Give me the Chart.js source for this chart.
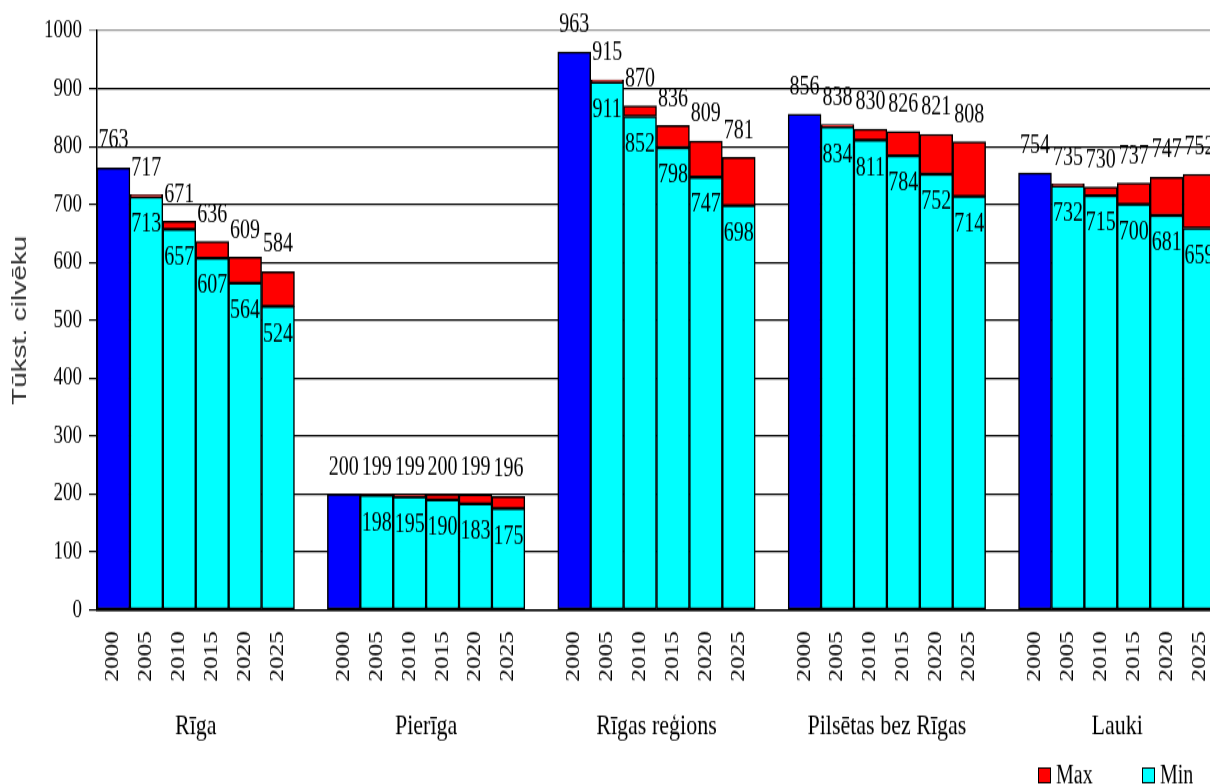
<!DOCTYPE html>
<html>
<head>
<meta charset="utf-8">
<script src="https://cdn.jsdelivr.net/npm/chart.js@4.4.1/dist/chart.umd.min.js"></script>
<style>
	body { margin: 0; background: #fff; }
	#wrap { width: 1210px; height: 784px; overflow: hidden; }
</style>
</head>
<body>
<div id="wrap">
	<canvas id="chart" width="1216" height="600" style="width:1216px;height:798px"></canvas>
</div>
<script>
// grupas un gadi
var groups = ['Rīga', 'Pierīga', 'Rīgas reģions', 'Pilsētas bez Rīgas', 'Lauki'];
var years = ['2000', '2005', '2010', '2015', '2020', '2025'];

// 2000. gada faktiskie dati (zilie stabiņi)
var base2000 = [763, 200, 963, 856, 754];

// prognozes 2005-2025, min un max
var rigaMin     = [713, 657, 607, 564, 524];
var rigaMax     = [717, 671, 636, 609, 584];
var pierigaMin  = [198, 195, 190, 183, 175];
var pierigaMax  = [199, 199, 200, 199, 196];
var regionsMin  = [911, 852, 798, 747, 698];
var regionsMax  = [915, 870, 836, 809, 781];
var pilsetasMin = [834, 811, 784, 752, 714];
var pilsetasMax = [838, 830, 826, 821, 808];
var laukiMin    = [732, 715, 700, 681, 659];
var laukiMax    = [735, 730, 737, 747, 752];

var yTicks = [0, 100, 200, 300, 400, 500, 600, 700, 800, 900, 1000];

var minByGroup = [rigaMin, pierigaMin, regionsMin, pilsetasMin, laukiMin];
var maxByGroup = [rigaMax, pierigaMax, regionsMax, pilsetasMax, laukiMax];

// izveido kategorijas ar tukšu vietu starp grupām
var labels = [], blueData = [], cyanData = [], redData = [], topVals = [], inVals = [];
var groupSlots = [];
groups.forEach(function(g, gi){
	var first = labels.length;
	years.forEach(function(y, yi){
		labels.push(y);
		if (yi === 0) {
			blueData.push(base2000[gi]); cyanData.push(null); redData.push(null);
			topVals.push(base2000[gi]); inVals.push(null);
		} else {
			var mn = minByGroup[gi][yi-1], mx = maxByGroup[gi][yi-1];
			blueData.push(null); cyanData.push(mn); redData.push(mx - mn);
			topVals.push(mx); inVals.push(mn);
		}
	});
	groupSlots.push([first, labels.length - 1]);
	if (gi < groups.length - 1) {
		labels.push(''); blueData.push(null); cyanData.push(null); redData.push(null);
		topVals.push(null); inVals.push(null);
	}
});

var serif = '"Liberation Serif", "Times New Roman", serif';

// vērtību uzraksti virs un iekšā stabiņos
var valueLabels = {
	id: 'valueLabels',
	afterDatasetsDraw: function(chart){
		var ctx = chart.ctx, x = chart.scales.x, y = chart.scales.y;
		ctx.save();
		ctx.font = '20px ' + serif;
		ctx.fillStyle = '#000';
		ctx.textAlign = 'center';
		ctx.textBaseline = 'middle';
		for (var i = 0; i < labels.length; i++) {
			var px = x.getPixelForValue(i);
			if (topVals[i] != null) ctx.fillText(String(topVals[i]), px, y.getPixelForValue(topVals[i]) - 20);
			if (inVals[i] != null) ctx.fillText(String(inVals[i]), px, y.getPixelForValue(inVals[i]) + 21);
		}
		ctx.restore();
	}
};

// grupu nosaukumi un leģenda apakšā
var groupNames = {
	id: 'groupNames',
	afterDraw: function(chart){
		var ctx = chart.ctx, x = chart.scales.x;
		ctx.save();
		ctx.fillStyle = '#000';
		ctx.textAlign = 'center';
		ctx.textBaseline = 'middle';
		ctx.font = '22px ' + serif;
		groups.forEach(function(g, gi){
			var cx = (x.getPixelForValue(groupSlots[gi][0]) + x.getPixelForValue(groupSlots[gi][1])) / 2;
			ctx.fillText(g, cx, 546);
		});
		// leģenda
		var items = [['Max', '#ff0000', 1038], ['Min', '#00ffff', 1142]];
		ctx.textAlign = 'left';
		ctx.font = '20px ' + serif;
		items.forEach(function(it){
			ctx.fillStyle = it[1];
			ctx.fillRect(it[2], 577, 13, 12);
			ctx.strokeStyle = '#000';
			ctx.lineWidth = 1;
			ctx.strokeRect(it[2] + 0.5, 577.5, 12, 11);
			ctx.fillStyle = '#000';
			ctx.fillText(it[0], it[2] + 18, 584);
		});
		ctx.restore();
	}
};

var barStyle = {
	stack: 'a',
	borderColor: '#000',
	borderWidth: 1.5,
	borderSkipped: false,
	barPercentage: 1,
	categoryPercentage: 1
};

new Chart(document.getElementById('chart').getContext('2d'), {
	type: 'bar',
	data: {
		labels: labels,
		datasets: [
			Object.assign({ label: '2000', data: blueData, backgroundColor: '#0000ff' }, barStyle),
			Object.assign({ label: 'Min', data: cyanData, backgroundColor: '#00ffff' }, barStyle),
			Object.assign({ label: 'Max', data: redData, backgroundColor: '#ff0000' }, barStyle)
		]
	},
	options: {
		responsive: false,
		animation: false,
		devicePixelRatio: 1,
		layout: { padding: { top: 23, right: 0, bottom: 0, left: 0 } },
		plugins: {
			legend: { display: false },
			tooltip: { enabled: false }
		},
		scales: {
			x: {
				stacked: true,
				grid: { display: false, drawTicks: false },
				border: { display: true, color: '#000', width: 1.5 },
				ticks: {
					autoSkip: false,
					maxRotation: 90,
					minRotation: 90,
					padding: 16,
					color: '#000',
					font: { family: serif, size: 19 }
				},
				afterFit: function(s){ s.height = 141.4; s.paddingLeft = 0; s.paddingRight = 0; }
			},
			y: {
				stacked: true,
				min: 0,
				max: 1000,
				afterBuildTicks: function(s){ s.ticks = yTicks.map(function(v){ return { value: v }; }); },
				grid: {
					color: function(c){ return c.tick && c.tick.value === 1000 ? '#999' : '#000'; },
					lineWidth: 1.2,
					tickLength: 8
				},
				border: { display: true, color: '#000', width: 1.5 },
				ticks: {
					padding: 7,
					color: '#000',
					font: { family: serif, size: 19 },
					callback: function(v){ return String(v); }
				},
				title: {
					display: true,
					text: 'Tūkst. cilvēku',
					color: '#333',
					padding: { top: 8, bottom: 0 },
					font: { family: '"Liberation Sans", Arial, sans-serif', size: 21 }
				},
				afterFit: function(s){ s.width = 97; s.paddingTop = 0; s.paddingBottom = 0; }
			}
		}
	},
	plugins: [valueLabels, groupNames]
});
</script>
</body>
</html>
